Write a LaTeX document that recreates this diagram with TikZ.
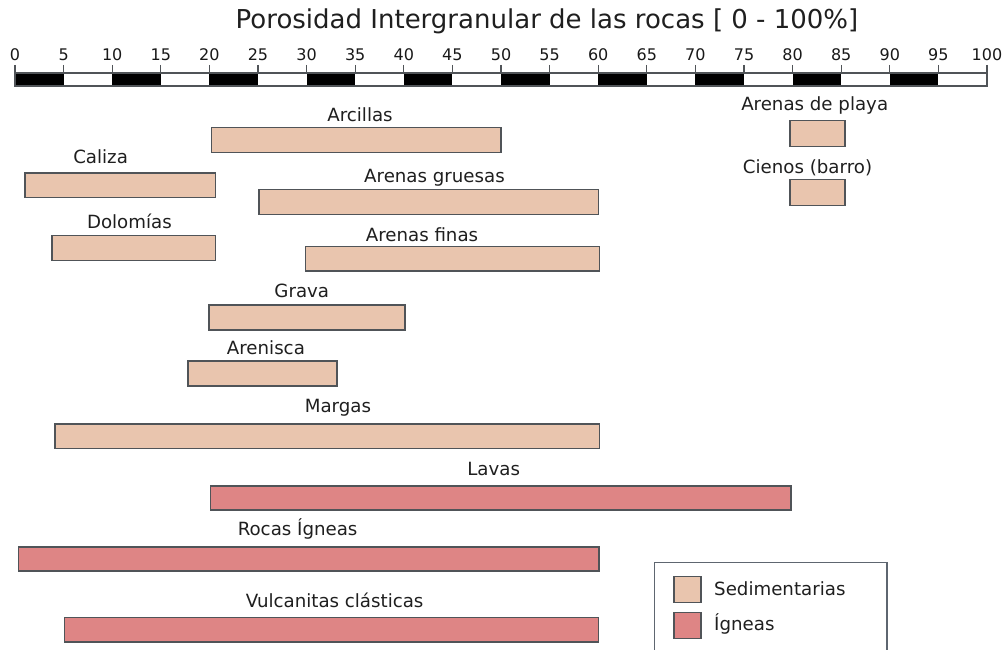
\documentclass[tikz,border=0pt]{standalone}
\usepackage{fontspec}
\setmainfont{DejaVu Sans}
\definecolor{sedi}{HTML}{E9C5AE}
\definecolor{ign}{HTML}{DE8585}
\definecolor{edge}{HTML}{505458}
\definecolor{legedge}{HTML}{5E6670}
\tikzset{
  sedbar/.style={draw=edge, line width=1.2pt, fill=sedi},
  ignbar/.style={draw=edge, line width=1.2pt, fill=ign},
  lbl/.style={anchor=base, font=\fontsize{18.2}{18.2}\selectfont, inner sep=0pt, text=black!88},
  ticklbl/.style={anchor=base, font=\fontsize{16}{16}\selectfont, inner sep=0pt, text=black!90},
  titlelbl/.style={anchor=base, font=\fontsize{26}{26}\selectfont, inner sep=0pt, text=black!88},
}
\begin{document}
\begin{tikzpicture}[x=1pt,y=-1pt]
\useasboundingbox[fill=white] (0,0) rectangle (1005,650);
% title
\node[titlelbl] (title) at (547,28.5) {Porosidad Intergranular de las rocas [ 0 - 100\%]};
% scale bar
\foreach \i in {0,...,19}{
  \pgfmathsetmacro{\xa}{15+\i*48.6}
  \pgfmathsetmacro{\xb}{15+(\i+1)*48.6}
  \pgfmathparse{mod(\i,2)==0 ? "black" : "white"}
  \edef\fc{\pgfmathresult}
  \fill[\fc] (\xa,73) rectangle (\xb,86);
}
\draw[edge, line width=1.2pt] (15,73) rectangle (987,86);
\foreach \i in {0,...,20}{
  \pgfmathsetmacro{\xt}{15+\i*48.6}
  \pgfmathtruncatemacro{\v}{\i*5}
  \draw[edge, line width=1.2pt] (\xt,65) -- (\xt,73);
  \node[ticklbl] (t\i) at (\xt,61) {\v};
}
% sedimentary bars
\path[sedbar] (211.5,127.5) rectangle (501,152.5);
\node[lbl] (arcillas) at (360,121.7) {Arcillas};
\path[sedbar] (25,173) rectangle (215.5,197.5);
\node[lbl] (caliza) at (100.6,163.3) {Caliza};
\path[sedbar] (259,189.5) rectangle (598.5,214.5);
\node[lbl] (gruesas) at (434.5,182.3) {Arenas gruesas};
\path[sedbar] (52,235.5) rectangle (215.5,260.5);
\node[lbl] (dolomias) at (129.4,228.3) {Dolomías};
\path[sedbar] (305.5,246.5) rectangle (599.5,271);
\node[lbl] (finas) at (422,241.7) {Arenas finas};
\path[sedbar] (209,305) rectangle (405,330);
\node[lbl] (grava) at (301.8,297.7) {Grava};
\path[sedbar] (188,361) rectangle (337,386);
\node[lbl] (arenisca) at (265.9,354.3) {Arenisca};
\path[sedbar] (55,424) rectangle (599.5,448.5);
\node[lbl] (margas) at (337.9,412.3) {Margas};
\path[sedbar] (790,120.7) rectangle (845,146.2);
\node[lbl] (playa) at (814.7,110.7) {Arenas de playa};
\path[sedbar] (790,179.7) rectangle (845,205.2);
\node[lbl] (cienos) at (807.5,174) {Cienos (barro)};
% igneous bars
\path[ignbar] (210.5,486) rectangle (791,510);
\node[lbl] (lavas) at (493.7,475.7) {Lavas};
\path[ignbar] (18.5,547) rectangle (599,571);
\node[lbl] (rocas) at (297.6,535.7) {Rocas Ígneas};
\path[ignbar] (64.5,617.5) rectangle (598.5,642);
\node[lbl] (vulc) at (334.6,607.7) {Vulcanitas clásticas};
% legend
\draw[draw=legedge, line width=1.2pt] (654.5,651) -- (654.5,562.7) -- (887,562.7) -- (887,651);
\path[sedbar] (674,576.5) rectangle (701,602.5);
\node[lbl, anchor=base west] (lsed) at (714,595.7) {Sedimentarias};
\path[ignbar] (674,612.7) rectangle (701,638.3);
\node[lbl, anchor=base west] (lign) at (714,630.5) {Ígneas};
\end{tikzpicture}
\end{document}
